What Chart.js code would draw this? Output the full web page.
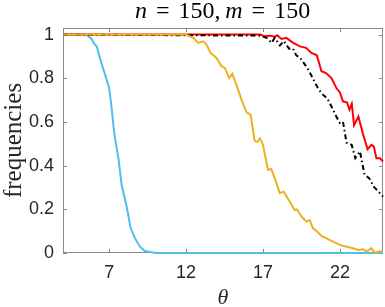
<!DOCTYPE html>
<html>
<head>
<meta charset="utf-8">
<script src="https://cdn.jsdelivr.net/npm/chart.js@4.4.1/dist/chart.umd.min.js"></script>
<style>
  html, body { margin: 0; padding: 0; background: #fff; }
  #wrap { position: relative; width: 385px; height: 307px; }
  #title { position: absolute; left: 0; width: 445px; top: -3px; text-align: center;
           font-family: "Liberation Serif", serif; font-size: 24px; color: #000; white-space: nowrap; }
  #title .op { margin: 0 9px; }
  #title i { font-style: italic; }
</style>
</head>
<body>
<div id="wrap">
  <canvas id="c" width="385" height="307"></canvas>
  <div id="title"><i>n</i><span class="op">=</span>150,&thinsp;<i>m</i><span class="op">=</span>150</div>
</div>
<script>
// ---- data ----
const xTickValues = [7, 12, 17, 22];
const yTickValues = [0, 0.2, 0.4, 0.6, 0.8, 1];

const thetaBlue = [4, 5.5, 5.86, 6.0, 6.19, 6.4, 6.73, 7.0, 7.16, 7.27, 7.38, 7.6, 7.81, 8.14, 8.4, 8.68, 9.0, 9.32, 9.76, 10.08, 24.8];
const freqBlue  = [1, 1, 0.98, 0.96, 0.946, 0.893, 0.817, 0.755, 0.664, 0.587, 0.526, 0.434, 0.312, 0.212, 0.113, 0.067, 0.029, 0.009, 0.003, 0, 0];

const thetaOrange = [4, 12.0, 12.46, 12.79, 13.11, 13.33, 13.59, 13.98, 14.3, 14.52, 14.8, 15.0, 15.27, 15.6, 15.92, 16.2, 16.45, 16.62, 16.8, 17.0, 17.32, 17.54, 17.76, 18.09, 18.35, 18.74, 19.06, 19.21, 19.5, 19.82, 20.04, 20.25, 20.51, 20.8, 21.12, 21.56, 21.99, 22.43, 22.86, 23.18, 23.51, 23.73, 24.05, 24.27, 24.48, 24.8];
const freqOrange  = [1, 1, 0.985, 0.962, 0.969, 0.954, 0.916, 0.893, 0.855, 0.847, 0.801, 0.82, 0.771, 0.702, 0.645, 0.632, 0.515, 0.508, 0.525, 0.495, 0.381, 0.384, 0.343, 0.274, 0.281, 0.235, 0.197, 0.2, 0.167, 0.144, 0.151, 0.113, 0.098, 0.078, 0.067, 0.052, 0.037, 0.029, 0.022, 0.014, 0.017, 0.006, 0.022, 0.001, 0.006, 0.009];

const thetaRed = [4, 16.8, 17.1, 17.45, 17.76, 17.92, 18.2, 18.52, 18.96, 19.4, 19.8, 20.15, 20.5, 20.8, 21.1, 21.45, 21.77, 22.0, 22.2, 22.45, 22.62, 22.77, 22.92, 23.2, 23.5, 23.8, 24.05, 24.2, 24.37, 24.6, 24.8];
const freqRed  = [1, 1, 0.992, 0.995, 0.99, 0.997, 0.98, 0.985, 0.962, 0.946, 0.939, 0.916, 0.905, 0.832, 0.824, 0.801, 0.755, 0.735, 0.694, 0.69, 0.656, 0.683, 0.585, 0.625, 0.545, 0.475, 0.495, 0.488, 0.434, 0.434, 0.419];

const thetaBlack = [4, 16.8, 17.23, 17.56, 17.76, 18.1, 18.35, 18.7, 18.96, 19.16, 19.4, 19.6, 19.9, 20.2, 20.6, 20.9, 21.2, 21.5, 21.8, 22.0, 22.2, 22.43, 22.77, 23.0, 23.3, 23.6, 23.9, 24.2, 24.5, 24.8];
const freqBlack  = [1, 0.995, 0.985, 0.962, 0.985, 0.95, 0.97, 0.935, 0.935, 0.905, 0.895, 0.875, 0.845, 0.805, 0.75, 0.725, 0.705, 0.664, 0.62, 0.595, 0.6, 0.505, 0.495, 0.434, 0.465, 0.358, 0.343, 0.304, 0.281, 0.258];

const pts = (xs, ys) => xs.map((x, i) => ({ x: x, y: ys[i] }));

const AXIS = '#8a8a8a';
const boxPlugin = {
  id: 'box',
  beforeDatasetsDraw(chart) {
    const { ctx, chartArea: a, scales: { x, y } } = chart;
    ctx.save();
    ctx.strokeStyle = AXIS;
    ctx.lineWidth = 1;
    ctx.strokeRect(a.left + 0.5, a.top + 0.5, a.right - a.left - 1, a.bottom - a.top - 1);
    const L = 4;
    ctx.beginPath();
    xTickValues.forEach(v => {
      const px = Math.round(x.getPixelForValue(v)) + 0.5;
      ctx.moveTo(px, a.bottom); ctx.lineTo(px, a.bottom - L);
      ctx.moveTo(px, a.top); ctx.lineTo(px, a.top + L);
    });
    yTickValues.forEach(v => {
      const py = Math.round(y.getPixelForValue(v)) + 0.5;
      ctx.moveTo(a.left, py); ctx.lineTo(a.left + L, py);
      ctx.moveTo(a.right, py); ctx.lineTo(a.right - L, py);
    });
    ctx.stroke();
    ctx.restore();
  }
};

new Chart(document.getElementById('c'), {
  type: 'line',
  data: {
    datasets: [
      { data: pts(thetaOrange, freqOrange), borderColor: '#EDB120', borderWidth: 2, pointRadius: 0, tension: 0, clip: 4 },
      { data: pts(thetaBlack, freqBlack), borderColor: '#000000', borderWidth: 2, borderDash: [5, 3, 1.5, 3], pointRadius: 0, tension: 0, clip: 4 },
      { data: pts(thetaRed, freqRed), borderColor: '#FF0000', borderWidth: 2, pointRadius: 0, tension: 0, clip: 4 },
      { data: pts(thetaBlue, freqBlue), borderColor: '#4DBEEE', borderWidth: 2, pointRadius: 0, tension: 0, clip: 4 }
    ]
  },
  options: {
    responsive: false,
    animation: false,
    events: [],
    layout: { padding: { top: 28, right: 2, left: 0, bottom: 0 } },
    plugins: { legend: { display: false }, title: { display: false }, tooltip: { enabled: false } },
    scales: {
      x: {
        type: 'linear', min: 4, max: 24.8,
        afterBuildTicks: s => { s.ticks = xTickValues.map(v => ({ value: v })); },
        afterFit: s => { s.height = 54; },
        grid: { display: false, drawTicks: false },
        border: { display: false },
        ticks: { padding: 9, color: '#262626', font: { family: 'Liberation Sans', size: 18 }, maxRotation: 0, autoSkip: false },
        title: { display: true, text: 'θ', color: '#262626', padding: { top: 0, bottom: -2 },
                 font: { family: 'Liberation Serif', size: 22, style: 'italic', lineHeight: 1 } }
      },
      y: {
        type: 'linear', min: 0, max: 1.03,
        afterBuildTicks: s => { s.ticks = yTickValues.map(v => ({ value: v })); },
        afterFit: s => { s.width = 63; },
        grid: { display: false, drawTicks: false },
        border: { display: false },
        ticks: { padding: 9, color: '#262626', font: { family: 'Liberation Sans', size: 18 },
                 callback: v => String(v) },
        title: { display: true, text: 'frequencies', color: '#262626', padding: 2,
                 font: { family: 'Liberation Serif', size: 25, lineHeight: 1 } }
      }
    }
  },
  plugins: [boxPlugin]
});
</script>
</body>
</html>
